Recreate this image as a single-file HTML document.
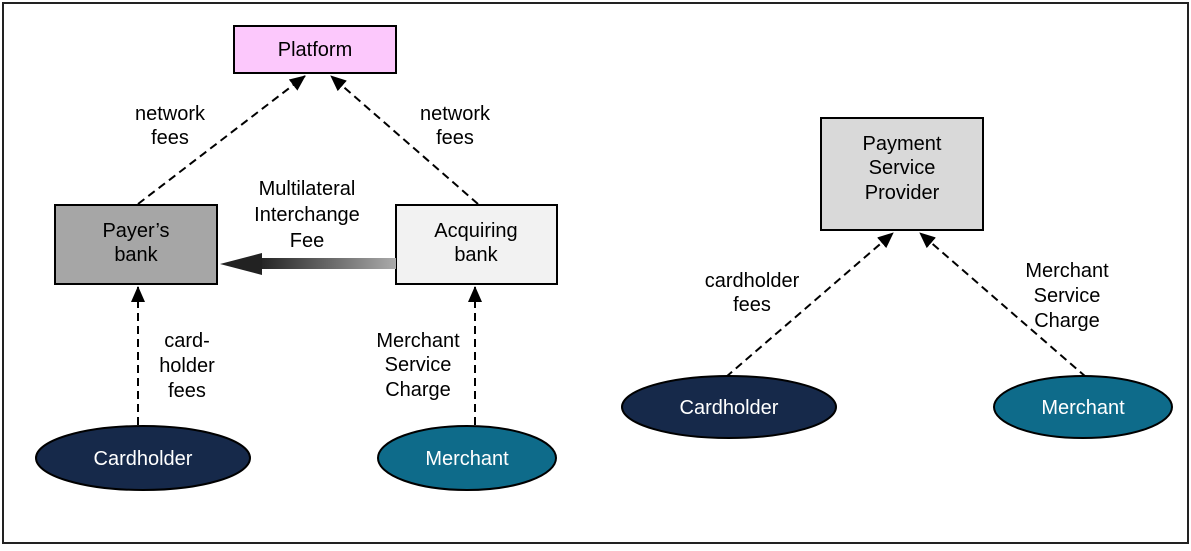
<!DOCTYPE html>
<html><head><style>
body{margin:0;background:#fff}
svg text{font-family:"Liberation Sans",Arial,sans-serif;font-size:20px;fill:#000;text-anchor:middle}
</style></head><body>
<svg width="1191" height="546" viewBox="0 0 1191 546" xmlns="http://www.w3.org/2000/svg">
<defs>
<marker id="a" markerWidth="16" markerHeight="14" refX="15" refY="7" orient="auto" markerUnits="userSpaceOnUse"><path d="M0,0 L16,7 L0,14 z" fill="#000"/></marker>
<linearGradient id="g" x1="0" x2="1" y1="0" y2="0"><stop offset="0" stop-color="#222"/><stop offset="1" stop-color="#aaa"/></linearGradient>
</defs>
<rect x="3" y="3" width="1185" height="540" fill="#fff" stroke="#222" stroke-width="2"/>
<g stroke="#000" stroke-width="2" stroke-dasharray="8,5" fill="none">
<line x1="138" y1="204" x2="305" y2="76" marker-end="url(#a)"/>
<line x1="478" y1="204" x2="331" y2="76" marker-end="url(#a)"/>
<line x1="138" y1="425" x2="138" y2="287" marker-end="url(#a)"/>
<line x1="475" y1="425" x2="475" y2="287" marker-end="url(#a)"/>
<line x1="726" y1="377" x2="893" y2="233" marker-end="url(#a)"/>
<line x1="1086" y1="377" x2="920" y2="233" marker-end="url(#a)"/>
</g>
<rect x="234" y="26" width="162" height="47" fill="#fcc8fc" stroke="#000" stroke-width="2"/>
<text x="315" y="56">Platform</text>
<rect x="55" y="205" width="162" height="79" fill="#a6a6a6" stroke="#000" stroke-width="2"/>
<text x="136" y="237">Payer’s</text><text x="136" y="261">bank</text>
<rect x="396" y="205" width="161" height="79" fill="#f2f2f2" stroke="#000" stroke-width="2"/>
<text x="476" y="237">Acquiring</text><text x="476" y="261">bank</text>
<rect x="258" y="258" width="138" height="11" fill="url(#g)"/>
<path d="M220,264 L262,253 L262,275 z" fill="#222"/>
<rect x="821" y="118" width="162" height="112" fill="#d9d9d9" stroke="#000" stroke-width="2"/>
<text x="902" y="150">Payment</text><text x="902" y="174">Service</text><text x="902" y="199">Provider</text>
<text x="170" y="120">network</text><text x="170" y="144">fees</text>
<text x="455" y="120">network</text><text x="455" y="144">fees</text>
<text x="307" y="195">Multilateral</text><text x="307" y="221">Interchange</text><text x="307" y="247">Fee</text>
<text x="187" y="347">card-</text><text x="187" y="372">holder</text><text x="187" y="397">fees</text>
<text x="418" y="347">Merchant</text><text x="418" y="371">Service</text><text x="418" y="396">Charge</text>
<text x="752" y="287">cardholder</text><text x="752" y="311">fees</text>
<text x="1067" y="277">Merchant</text><text x="1067" y="302">Service</text><text x="1067" y="327">Charge</text>
<ellipse cx="143" cy="458" rx="107" ry="32" fill="#16294a" stroke="#000" stroke-width="2"/>
<text x="143" y="465" style="fill:#fff">Cardholder</text>
<ellipse cx="467" cy="458" rx="89" ry="32" fill="#0e6b8a" stroke="#000" stroke-width="2"/>
<text x="467" y="465" style="fill:#fff">Merchant</text>
<ellipse cx="729" cy="407" rx="107" ry="31" fill="#16294a" stroke="#000" stroke-width="2"/>
<text x="729" y="414" style="fill:#fff">Cardholder</text>
<ellipse cx="1083" cy="407" rx="89" ry="31" fill="#0e6b8a" stroke="#000" stroke-width="2"/>
<text x="1083" y="414" style="fill:#fff">Merchant</text>
</svg>
</body></html>
